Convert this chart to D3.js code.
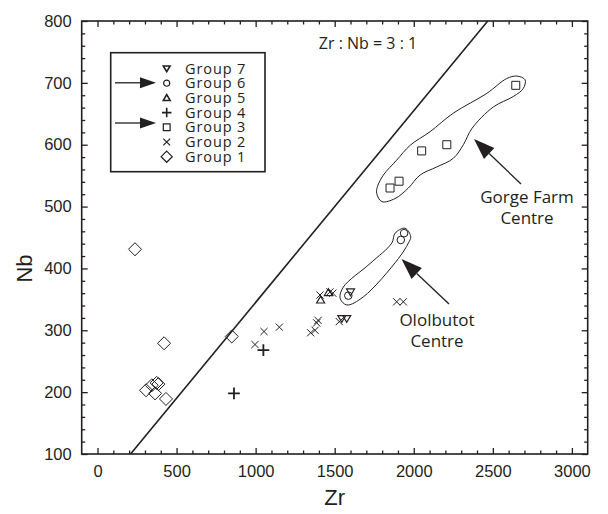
<!DOCTYPE html>
<html>
<head>
<meta charset="utf-8">
<title>Zr - Nb</title>
<style>
  body { margin: 0; background: #fff; }
  svg text { fill: #231f20; }
</style>
</head>
<body>
<script src="https://cdn.jsdelivr.net/npm/d3@7/dist/d3.min.js"></script>
<script>
// data (Zr, Nb in ppm)
var groupNames = ["Group 7", "Group 6", "Group 5", "Group 4", "Group 3", "Group 2", "Group 1"];
var groupShapes = ["triDown", "circle", "triUp", "plus", "square", "cross", "diamond"];

var g1Zr = [237, 307, 343, 374, 385, 364, 433, 421, 849];
var g1Nb = [431, 203, 211, 215, 213, 198, 189, 279, 290];
var g2Zr = [996, 1053, 1150, 1348, 1376, 1386, 1395, 1407, 1470, 1488, 1529, 1892, 1934];
var g2Nb = [277, 298, 305, 296, 300, 312, 316, 357, 362, 360, 314, 346, 346];
var g3Zr = [1850, 1907, 2050, 2209, 2645];
var g3Nb = [530, 541, 590, 600, 696];
var g4Zr = [863, 1049];
var g4Nb = [198, 268];
var g5Zr = [1411, 1460];
var g5Nb = [349, 361];
var g6Zr = [1586, 1918, 1939];
var g6Nb = [356, 446, 457];
var g7Zr = [1545, 1576, 1600];
var g7Nb = [319, 319, 362];

// Zr : Nb = 3 : 1 reference line, as drawn
var refZr = [209, 2468];
var refNb = [100, 800];

// outlines round the two centres (data units)
var gorgeZr = [1766, 1798, 1882, 1966, 2040, 2145, 2250, 2314, 2367, 2503, 2630, 2693, 2704, 2651, 2588, 2462, 2250, 2103, 1977, 1892, 1808, 1770];
var gorgeNb = [521, 508, 513, 530, 551, 564, 578, 600, 626, 661, 678, 691, 705, 711, 707, 683, 651, 621, 599, 575, 551, 532];
var ololZr = [1945, 1981, 1966, 1903, 1681, 1576, 1534, 1555, 1724, 1861, 1882];
var ololNb = [465, 451, 441, 416, 354, 341, 352, 370, 408, 441, 457];

var xMajor = [0, 500, 1000, 1500, 2000, 2500, 3000];
var yMajor = [100, 200, 300, 400, 500, 600, 700, 800];

function main() {
    var width = 608, height = 514;
    var left = 81.7, right = 587.7, top = 21, bottom = 454;

    var svg = d3.select("body").append("svg")
        .attr("width", width)
        .attr("height", height);

    var x = d3.scaleLinear().domain([-100, 3100]).range([left, right]);
    var y = d3.scaleLinear().domain([100, 800]).range([bottom, top]);

    var ink = "#231f20";

    // minor ticks
    var xMinor = d3.range(100, 3100, 100).filter(function (d) { return d % 500 !== 0; });
    var yMinor = d3.range(120, 800, 20).filter(function (d) { return d % 100 !== 0; });

    function addAxis(gen, tx, ty, vals, size, labels) {
        var a = gen.tickValues(vals).tickSize(size).tickPadding(8);
        a.tickFormat(labels ? d3.format("d") : "");
        var g = svg.append("g").attr("transform", "translate(" + tx + "," + ty + ")").call(a);
        g.select(".domain").remove();
        g.selectAll("line").attr("stroke", ink).attr("stroke-width", 1.3);
        g.selectAll("text")
            .style("font-family", "'Liberation Sans', Arial, sans-serif")
            .style("font-size", "16.5px")
            .attr("fill", ink);
        return g;
    }
    addAxis(d3.axisBottom(x), 0, bottom, xMajor, -6, true).selectAll("text").attr("dy", "0.9em");
    addAxis(d3.axisBottom(x), 0, bottom, xMinor, -3.5, false);
    addAxis(d3.axisTop(x), 0, top, xMajor, -6, false);
    addAxis(d3.axisTop(x), 0, top, xMinor, -3.5, false);
    addAxis(d3.axisLeft(y), left, 0, yMajor, -6, true).selectAll("text").attr("x", -10);
    addAxis(d3.axisLeft(y), left, 0, yMinor, -3.5, false);
    addAxis(d3.axisRight(y), right, 0, yMajor, -6, false);
    addAxis(d3.axisRight(y), right, 0, yMinor, -3.5, false);

    // frame
    svg.append("rect")
        .attr("x", left).attr("y", top)
        .attr("width", right - left).attr("height", bottom - top)
        .attr("fill", "none").attr("stroke", ink).attr("stroke-width", 1.6);

    // axis titles
    svg.append("text")
        .attr("x", (left + right) / 2).attr("y", 505)
        .attr("text-anchor", "middle")
        .style("font-family", "'Liberation Sans', Arial, sans-serif")
        .style("font-size", "22px")
        .text("Zr");
    svg.append("text")
        .attr("transform", "translate(32," + ((top + bottom) / 2 + 31) + ") rotate(-90)")
        .attr("text-anchor", "middle")
        .style("font-family", "'Liberation Sans', Arial, sans-serif")
        .style("font-size", "22px")
        .text("Nb");

    // reference line
    svg.append("line")
        .attr("x1", x(refZr[0])).attr("y1", y(refNb[0]))
        .attr("x2", x(refZr[1])).attr("y2", y(refNb[1]))
        .attr("stroke", ink).attr("stroke-width", 1.6);

    var annoFont = "'Open Sans', 'Noto Sans', sans-serif";
    svg.append("text")
        .attr("x", 368).attr("y", 49)
        .attr("text-anchor", "middle")
        .style("font-family", annoFont).style("font-size", "16px")
        .text("Zr : Nb = 3 : 1");

    // outlines
    var outline = d3.line().curve(d3.curveCatmullRomClosed.alpha(0.5));
    function drawLoop(zr, nb) {
        var pts = zr.map(function (d, i) { return [x(d), y(nb[i])]; });
        svg.append("path").attr("d", outline(pts))
            .attr("fill", "none").attr("stroke", ink).attr("stroke-width", 1);
    }
    drawLoop(gorgeZr, gorgeNb);
    drawLoop(ololZr, ololNb);

    // marker shapes
    function shapePath(s, r) {
        switch (s) {
            case "triDown": return "M" + (-r) + "," + (-r * 0.75) + "L" + r + "," + (-r * 0.75) + "L0," + (r * 0.95) + "Z";
            case "triUp": return "M" + (-r) + "," + (r * 0.75) + "L" + r + "," + (r * 0.75) + "L0," + (-r * 0.95) + "Z";
            case "circle": return d3.arc()({innerRadius: 0, outerRadius: r * 0.9, startAngle: 0, endAngle: 2 * Math.PI});
            case "square": return "M" + (-r) + "," + (-r) + "h" + (2 * r) + "v" + (2 * r) + "h" + (-2 * r) + "Z";
            case "cross": return "M" + (-r) + "," + (-r) + "L" + r + "," + r + "M" + (-r) + "," + r + "L" + r + "," + (-r);
            case "plus": return "M" + (-r * 1.4) + ",0H" + (r * 1.4) + "M0," + (-r * 1.4) + "V" + (r * 1.4);
            case "diamond": return "M0," + (-r * 1.55) + "L" + (r * 1.55) + ",0L0," + (r * 1.55) + "L" + (-r * 1.55) + ",0Z";
        }
    }
    function plot(zr, nb, shape, r, sw) {
        svg.append("g").selectAll("path")
            .data(zr.map(function (d, i) { return [d, nb[i]]; }))
            .enter().append("path")
            .attr("transform", function (d) { return "translate(" + x(d[0]) + "," + y(d[1]) + ")"; })
            .attr("d", shapePath(shape, r))
            .attr("fill", "none").attr("stroke", ink).attr("stroke-width", sw);
    }
    plot(g1Zr, g1Nb, "diamond", 4.2, 1);
    plot(g2Zr, g2Nb, "cross", 3.6, 1);
    plot(g3Zr, g3Nb, "square", 4, 1);
    plot(g4Zr, g4Nb, "plus", 4.2, 1.8);
    plot(g5Zr, g5Nb, "triUp", 4, 1.2);
    plot(g6Zr, g6Nb, "circle", 4.2, 1);
    plot(g7Zr, g7Nb, "triDown", 4, 1.2);

    // legend
    var lg = svg.append("g");
    lg.append("rect")
        .attr("x", 110.7).attr("y", 52.7).attr("width", 154.3).attr("height", 119)
        .attr("fill", "#fff").attr("stroke", ink).attr("stroke-width", 1.6);
    groupNames.forEach(function (name, i) {
        var cy = 68.5 + i * 14.7;
        var s = groupShapes[i];
        lg.append("path")
            .attr("transform", "translate(166.7," + cy + ")")
            .attr("d", shapePath(s, s === "diamond" ? 3.6 : 3.4))
            .attr("fill", "none").attr("stroke", ink)
            .attr("stroke-width", s === "plus" || s === "triDown" || s === "triUp" ? 1.6 : 1.2);
        lg.append("text")
            .attr("x", 185).attr("y", cy + 5)
            .style("font-family", annoFont).style("font-size", "14.5px")
            .style("letter-spacing", "0.9px")
            .text(name);
    });

    // arrows
    function arrow(x1, y1, x2, y2, len, half) {
        var ang = Math.atan2(y2 - y1, x2 - x1);
        var bx = x2 - len * Math.cos(ang), by = y2 - len * Math.sin(ang);
        svg.append("line")
            .attr("x1", x1).attr("y1", y1).attr("x2", bx).attr("y2", by)
            .attr("stroke", ink).attr("stroke-width", 1.3);
        var px = -Math.sin(ang) * half, py = Math.cos(ang) * half;
        svg.append("path")
            .attr("d", "M" + x2 + "," + y2 + "L" + (bx + px) + "," + (by + py) + "L" + (bx - px) + "," + (by - py) + "Z")
            .attr("fill", ink);
    }
    arrow(115, 82.8, 156, 82.8, 16, 5.5);
    arrow(115, 123, 156, 123, 16, 5.5);
    arrow(521, 184, 474, 139, 21, 7.5);
    arrow(449, 304, 401.5, 259, 21, 7.5);

    // centre labels
    function label(cx, cy, lines) {
        lines.forEach(function (t, i) {
            svg.append("text")
                .attr("x", cx).attr("y", cy + i * 21)
                .attr("text-anchor", "middle")
                .style("font-family", annoFont).style("font-size", "17px")
                .text(t);
        });
    }
    label(527, 203, ["Gorge Farm", "Centre"]);
    label(437, 326, ["Ololbutot", "Centre"]);
}

window.onload = function () {
    main();
};
</script>
</body>
</html>
